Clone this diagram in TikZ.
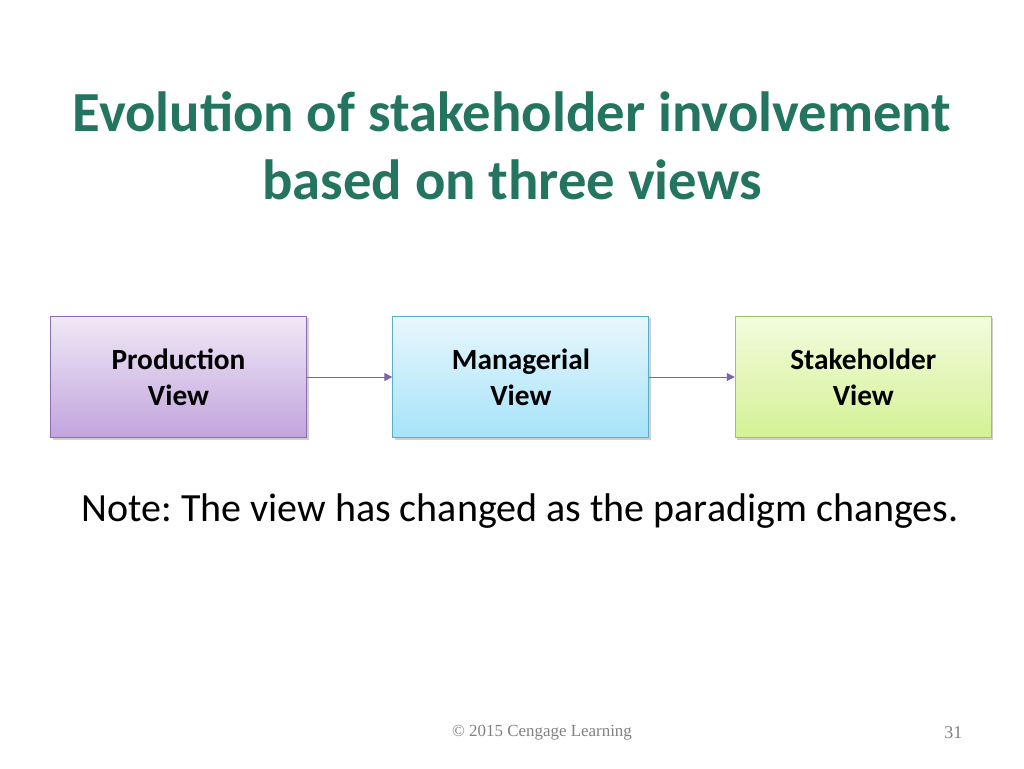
\documentclass[tikz,border=0pt]{standalone}
\usepackage{fontspec}
\setmainfont{Carlito}
\newfontfamily\footfont{Liberation Serif}
\usetikzlibrary{positioning,shadows,arrows.meta}
\definecolor{titlegreen}{HTML}{247560}
\definecolor{arrowpurple}{HTML}{7B64A8}
\definecolor{prodtop}{HTML}{F0E8F6}
\definecolor{prodbot}{HTML}{C2A4DE}
\definecolor{prodline}{HTML}{8C6EAE}
\definecolor{mgrtop}{HTML}{E8F7FC}
\definecolor{mgrbot}{HTML}{A6E3F9}
\definecolor{mgrline}{HTML}{5AAFC8}
\definecolor{staketop}{HTML}{F3FBDE}
\definecolor{stakebot}{HTML}{D3F294}
\definecolor{stakeline}{HTML}{9EC16E}
\tikzset{
  viewbox/.style={draw,line width=0.8pt,minimum width=192pt,minimum height=91pt,
    align=center,font=\fontsize{22}{27}\selectfont\bfseries,
    drop shadow={shadow xshift=1.5pt,shadow yshift=-1.5pt,opacity=0.3,fill=black!60}},
  viewarrow/.style={arrowpurple,line width=0.7pt,-{Triangle[length=6pt,width=6pt]}}
}
\frenchspacing
\begin{document}
\begin{tikzpicture}[x=0.75pt,y=0.75pt,node distance=64pt]
	\useasboundingbox[fill=white] (0,0) rectangle (1024,-768);
	\node (title) [align=center,text=titlegreen,font=\fontsize{42.5}{51}\selectfont\bfseries] at (512,-146)
		{Evolution of stakeholder involvement\\based on three views};
	\node (prod) [viewbox,draw=prodline,top color=prodtop,bottom color=prodbot] at (178.5,-377) {Production\\View};
	\node (mgr) [viewbox,right=of prod,draw=mgrline,top color=mgrtop,bottom color=mgrbot] {Managerial\\View};
	\node (stake) [viewbox,right=of mgr,draw=stakeline,top color=staketop,bottom color=stakebot] {Stakeholder\\View};
	\draw [viewarrow] (prod) -- (mgr);
	\draw [viewarrow] (mgr) -- (stake);
	\node (note) [font=\fontsize{30}{36}\selectfont] at (520,-511) {Note: The view has changed as the paradigm changes.};
	\node (footer) [text=black!50,font=\footfont\fontsize{12.7}{15}\selectfont] at (542,-733) {\textcopyright{} 2015 Cengage Learning};
	\node (pagenum) [text=black!50,font=\footfont\fontsize{13.5}{15}\selectfont,anchor=east] at (967,-733) {31};
\end{tikzpicture}
\end{document}
